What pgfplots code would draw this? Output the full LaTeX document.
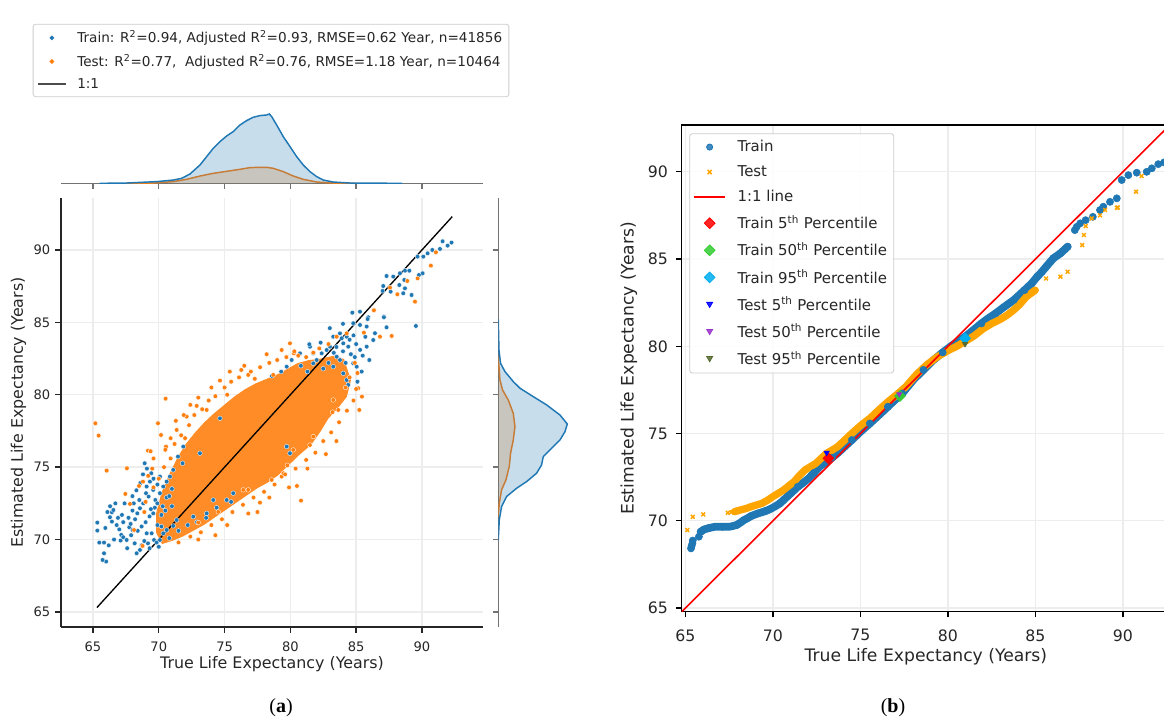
\documentclass[border=0pt]{standalone}
\usepackage{pgfplots}
\pgfplotsset{compat=1.18}
\usepackage{fontspec}
\setmainfont{DejaVu Sans}
\newfontfamily\capfont{Liberation Serif}
\definecolor{tabblue}{HTML}{1F77B4}
\definecolor{taborange}{HTML}{FF7F0E}
\definecolor{morange}{HTML}{FFA500}
\definecolor{lgreen}{HTML}{32CD32}
\definecolor{dorchid}{HTML}{9932CC}
\definecolor{dolive}{HTML}{556B2F}
\definecolor{gridc}{HTML}{EDEDED}
\definecolor{txt}{HTML}{262626}
\begin{document}
\begin{tikzpicture}
\useasboundingbox (0,0) rectangle (873pt,540pt);
\clip (0,0) rectangle (873pt,540pt);

% ---------------- top marginal (a)
\begin{axis}[at={(45.75pt,402.5pt)}, anchor=south west, scale only axis,
  width=316.5pt, height=55pt, xmin=62.57, xmax=94.64, ymin=0, ymax=73.3,
  axis x line*=bottom, hide y axis,
  xtick={65,70,...,90}, xticklabels={,,,,,},
  tick align=outside, major tick length=4pt,
  axis line style={black!55, line width=1.1pt}, tick style={black!55, line width=1pt}]
\addplot[fill=taborange, fill opacity=0.25, draw=none] coordinates {(67.5,0)(69.58,0.3)(71.10,1.7)(72.12,4)(73.13,7.3)(74.14,10)(75.16,12)(76.17,14)(76.93,15.7)(77.69,16)(78.20,16)(78.70,15)(79.46,11.7)(80.22,7.3)(80.98,4)(82.00,1.3)(83.26,0.3)(85,0)} -- cycle;
\addplot[taborange, line width=1.1pt] coordinates {(67.5,0)(69.58,0.3)(71.10,1.7)(72.12,4)(73.13,7.3)(74.14,10)(75.16,12)(76.17,14)(76.93,15.7)(77.69,16)(78.20,16)(78.70,15)(79.46,11.7)(80.22,7.3)(80.98,4)(82.00,1.3)(83.26,0.3)(85,0)};
\addplot[fill=tabblue, fill opacity=0.25, draw=none] coordinates {(65.5,0)(67.56,0.3)(69.84,1.7)(71.10,3.3)(71.74,5)(72.37,9.3)(73.13,18.3)(73.64,26.7)(74.14,35)(74.65,41.7)(75.16,47.3)(75.66,51.7)(76.17,58.3)(76.68,62.7)(77.18,66)(77.69,67.7)(78.20,68.3)(78.40,69.3)(78.58,66.7)(78.96,58.3)(79.46,46.7)(79.97,36.7)(80.48,26.7)(80.98,18.3)(81.49,11.7)(82.00,6.7)(82.50,3.3)(83.26,1.3)(84.53,0.3)(88.5,0)} -- cycle;
\addplot[tabblue, line width=1.1pt] coordinates {(65.5,0)(67.56,0.3)(69.84,1.7)(71.10,3.3)(71.74,5)(72.37,9.3)(73.13,18.3)(73.64,26.7)(74.14,35)(74.65,41.7)(75.16,47.3)(75.66,51.7)(76.17,58.3)(76.68,62.7)(77.18,66)(77.69,67.7)(78.20,68.3)(78.40,69.3)(78.58,66.7)(78.96,58.3)(79.46,46.7)(79.97,36.7)(80.48,26.7)(80.98,18.3)(81.49,11.7)(82.00,6.7)(82.50,3.3)(83.26,1.3)(84.53,0.3)(88.5,0)};
\end{axis}

% ---------------- right marginal (a)
\begin{axis}[at={(373.7pt,69.75pt)}, anchor=south west, scale only axis,
  width=55pt, height=321.75pt, xmin=0, xmax=73.3, ymin=63.96, ymax=93.59,
  axis y line*=left, hide x axis,
  ytick={65,70,...,90}, yticklabels={,,,,,},
  tick align=outside, major tick length=4pt,
  axis line style={black!55, line width=1.1pt}, tick style={black!55, line width=1pt}]
\addplot[fill=taborange, fill opacity=0.25, draw=none] coordinates {(0,82.63)(1.7,81.02)(4.3,80.33)(10,79.64)(15,78.72)(16.7,77.8)(15,76.88)(12.3,75.96)(11,75.04)(7.7,74.12)(3.3,73.43)(1,72.5)(0,71.58)} -- cycle;
\addplot[taborange, line width=1.1pt] coordinates {(0,82.63)(1.7,81.02)(4.3,80.33)(10,79.64)(15,78.72)(16.7,77.8)(15,76.88)(12.3,75.96)(11,75.04)(7.7,74.12)(3.3,73.43)(1,72.5)(0,71.58)};
\addplot[fill=tabblue, fill opacity=0.25, draw=none] coordinates {(0,85.2)(0.7,83.09)(2.3,82.17)(6.7,81.6)(15,80.91)(21.7,80.45)(35,79.87)(48.3,79.30)(61.7,78.6)(69,77.98)(66.7,77.45)(61.7,76.88)(51.7,76.19)(45,75.73)(43.3,75.15)(38.3,74.58)(28.3,74.0)(18.3,73.54)(8.3,72.97)(3.3,72.27)(1,71.35)(0,69.97)} -- cycle;
\addplot[tabblue, line width=1.1pt] coordinates {(0,85.2)(0.7,83.09)(2.3,82.17)(6.7,81.6)(15,80.91)(21.7,80.45)(35,79.87)(48.3,79.30)(61.7,78.6)(69,77.98)(66.7,77.45)(61.7,76.88)(51.7,76.19)(45,75.73)(43.3,75.15)(38.3,74.58)(28.3,74.0)(18.3,73.54)(8.3,72.97)(3.3,72.27)(1,71.35)(0,69.97)};
\end{axis}

% ---------------- main scatter (a)
\begin{axis}[at={(45.75pt,69.75pt)}, anchor=south west, scale only axis,
  width=316.5pt, height=321.75pt, xmin=62.57, xmax=94.64, ymin=63.96, ymax=93.59,
  axis lines*=left, axis line style={txt, line width=1pt},
  xtick={65,70,...,90}, ytick={65,70,...,90},
  tick align=outside, major tick length=4.5pt, tick style={txt, line width=1pt},
  grid=major, major grid style={gridc, line width=1pt},
  /pgf/number format/assume math mode=true,
  tick label style={font=\fontsize{9.8}{11}\selectfont, text=txt},
  xticklabel style={yshift=-3pt},
  label style={font=\fontsize{11.9}{13}\selectfont, text=txt},
  xlabel={True Life Expectancy (Years)}, ylabel={Estimated Life Expectancy (Years)},
  xlabel style={at={(axis description cs:0.5,-0.087)}, anchor=center},
  ylabel style={at={(axis description cs:-0.101,0.5)}, anchor=center},
  legend style={at={(axis description cs:-0.067,1.406)}, anchor=north west,
    draw=black!20, line width=0.6pt, rounded corners=2pt, fill=white,
    font=\fontsize{10.2}{12}\selectfont, text=txt, row sep=3.3pt, inner xsep=3pt, inner ysep=3pt,
    /tikz/every odd column/.append style={column sep=6pt}},
  legend cell align=left]
\addlegendimage{legend image code/.code={\fill[tabblue, sharp corners] (10.5pt,0pt) circle (1.4pt);}}
\addlegendentry{Train: R\textsuperscript{2}=0.94, Adjusted R\textsuperscript{2}=0.93, RMSE=0.62 Year, n=41856}
\addlegendimage{legend image code/.code={\fill[taborange, sharp corners] (10.5pt,0pt) circle (1.4pt);}}
\addlegendentry{Test: R\textsuperscript{2}=0.77,\ \ Adjusted R\textsuperscript{2}=0.76, RMSE=1.18 Year, n=10464}
\addlegendimage{legend image code/.code={\draw[black!70, line width=1.1pt, sharp corners] (0pt,0pt) -- (21pt,0pt);}}
\addlegendentry{1:1}
% train
\addplot[forget plot, only marks, mark=*, mark size=1.75pt, mark options={fill=tabblue, draw=white, line width=0.25pt}] coordinates {
(65.33,71.17)(65.33,70.62)(65.48,69.79)(65.84,69.79)(65.84,69.05)(66.00,68.48)(65.73,68.59)(65.94,70.80)(66.29,71.54)(66.44,71.88)(66.70,72.50)(66.55,72.04)(66.44,71.24)(67.10,69.93)(67.15,70.32)(67.30,70.16)(67.56,69.97)(67.76,70.85)(67.86,71.08)(68.01,70.66)(68.17,69.74)(68.32,69.05)(68.57,69.28)(68.37,71.81)(68.52,72.73)(68.57,72.16)(68.82,72.50)(69.03,73.20)(69.08,73.66)(69.23,72.97)(69.33,74.00)(69.43,74.58)(69.58,73.43)(69.74,72.73)(69.58,71.81)(69.89,72.50)(68.93,75.27)(69.08,70.43)(69.18,69.74)(69.46,70.43)(69.64,69.97)(69.84,69.79)(70.09,69.97)(70.34,70.43)(70.60,70.66)(71.10,70.94)(71.36,71.35)(70.09,73.20)(70.34,73.66)(70.60,74.00)(70.85,74.35)(71.10,74.81)(70.09,74.35)(71.46,75.73)(71.81,75.27)(68.0,72.0)(68.2,71.4)(68.7,70.9)(69.0,71.2)(69.3,71.6)(67.9,70.3)(68.9,69.9)(69.9,71.0)(70.2,70.9)(67.0,70.7)(66.9,71.5)(68.4,70.6)(69.7,72.2)(70.3,72.3)(70.6,72.9)(71.0,73.5)(70.8,73.0)
(66.1,71.9)(66.3,72.3)(66.8,71.0)(67.2,71.7)(67.4,72.5)(67.7,71.5)(68.0,73.0)(68.3,73.4)(68.6,73.9)(68.8,74.5)(69.1,74.9)(69.6,74.2)(69.9,73.8)(67.6,69.4)(68.7,69.6)(69.3,69.4)(70.0,69.5)(66.6,70.0)(66.2,69.6)(67.3,71.2)(68.1,72.5)(69.4,72.1)(70.2,71.7)(70.5,72.0)(71.0,72.3)(70.8,70.1)(71.5,70.6)(72.2,71.0)(72.9,71.2)(73.6,71.5)(74.4,72.2)(75.5,72.6)
(84.71,85.67)(85.29,85.74)(85.92,85.35)(84.78,84.94)(85.29,84.82)(85.80,84.71)(86.43,84.25)(87.31,84.66)(87.11,85.40)(89.54,84.75)(85.80,83.32)(86.30,83.78)(85.42,81.60)(85.04,81.94)(84.78,82.17)(84.40,80.68)(84.28,84.01)(83.77,84.24)(84.02,83.55)(84.40,83.32)(83.26,84.01)(83.01,83.32)(82.76,83.09)(82.38,82.86)(82.00,82.40)(81.74,82.17)(81.49,83.32)(81.74,82.86)(83.52,82.63)(83.77,82.40)(83.26,81.94)(84.02,81.48)(84.28,81.02)(79.72,81.94)(80.73,82.86)(91.57,90.60)(91.95,90.30)(92.25,90.51)(91.37,90.07)(90.79,90.00)(90.43,89.77)(90.10,89.54)(89.67,89.54)(90.05,88.39)(89.77,88.27)(87.31,88.20)(87.82,88.16)(88.33,88.39)(88.71,88.57)(89.04,88.57)(88.66,87.93)(88.28,87.58)(87.06,87.51)(87.01,87.17)(87.62,87.12)(88.71,87.35)(88.58,87.01)(89.21,86.89)(85.87,85.23)(87.11,85.35)(79.72,76.42)(79.97,75.96)(74.14,72.73)(75.16,72.73)(75.66,73.20)(73.64,71.81)(72.62,71.58)(74.65,78.37)(71.86,76.42)(73.13,75.96)(84.0,83.0)(84.5,83.8)(85.0,83.5)(84.6,82.8)(83.5,83.3)(84.9,82.6)(85.3,83.1)(84.2,82.2)(83.3,82.9)(84.8,84.1)(83.9,83.9)(85.5,82.7)(82.9,82.2)(82.5,81.8)(80.1,82.4)(80.8,82.0)(81.3,81.6)(79.3,81.6)(78.6,81.3)(81.44,83.49)(83.0,84.6)(84.0,84.9)(82.3,83.6)(85.7,84.0)(86.0,82.4)(85.1,80.9)};
% test: dense core
\addplot[forget plot, fill=taborange!90!white, draw=taborange!90!white, line width=2pt] coordinates {
(69.9,70.5)(69.9,71.8)(70.3,73.2)(70.9,74.5)(71.5,75.6)(72.1,76.5)(72.8,77.3)(73.5,78.0)(74.2,78.6)(75.0,79.2)(75.8,79.8)(76.6,80.3)(77.4,80.7)(78.2,81.0)(79.0,81.3)(79.8,81.7)(80.6,82.1)(81.4,82.3)(82.3,82.4)(83.3,82.6)(84.0,82.4)(84.5,81.0)(84.2,79.9)(83.6,79.2)(82.8,78.4)(82.2,77.5)(81.5,76.6)(80.6,75.9)(79.8,75.2)(79.0,74.5)(78.2,74.0)(77.4,73.6)(76.6,73.1)(75.8,72.6)(75.0,72.1)(74.2,71.6)(73.4,71.1)(72.6,70.7)(71.8,70.3)(71.0,70.0)(70.3,69.8)} -- cycle;
% test: scattered points
\addplot[forget plot, only marks, mark=*, mark size=1.75pt, mark options={fill=taborange, draw=white, line width=0.25pt}] coordinates {
(65.18,78.03)(65.43,77.18)(66.04,74.76)(67.58,74.92)(67.46,73.15)(67.81,72.46)(68.12,70.66)(68.77,69.56)(69.18,76.14)(69.38,76.10)(69.94,78.03)(70.52,79.73)(70.17,77.22)(70.55,76.42)(71.36,77.57)(72.12,78.49)(72.88,79.23)(73.64,78.95)(74.65,80.98)(76.27,81.71)(76.80,81.37)(78.70,81.37)(79.34,83.09)(79.97,83.55)(80.27,82.86)(81.74,82.91)(83.52,84.01)(84.28,84.24)(85.59,84.29)(86.35,85.86)(86.81,84.01)(87.70,84.06)(85.16,80.45)(85.44,79.87)(85.24,78.95)(83.64,78.95)(83.26,79.64)(81.74,77.11)(81.49,76.53)(80.22,76.19)(79.34,74.35)(79.47,74.58)(78.58,74.12)(77.69,72.55)(76.80,73.43)(76.42,73.43)(74.52,71.91)(73.00,71.17)(80.81,72.69)(79.77,75.13)(91.06,89.84)(90.68,88.92)(89.67,88.04)(88.89,87.86)(88.13,86.94)(87.57,87.40)(89.47,86.43)(86.35,85.83)
(70.0,74.2)(70.4,75.0)(70.9,75.6)(71.2,76.6)(71.7,77.2)(72.3,77.9)(72.7,78.6)(73.3,79.0)(73.8,79.6)(74.3,79.9)(75.0,80.5)(75.5,80.9)(76.1,81.2)(77.0,81.6)(77.7,81.9)(78.4,82.2)(79.0,82.4)(79.7,82.6)(80.3,83.0)(69.5,74.9)(69.6,75.6)(70.9,77.0)(71.9,78.6)(72.4,79.3)(73.0,79.8)(74.0,80.5)(75.4,81.6)(76.5,82.0)(78.2,82.8)(71.3,78.2)(70.5,76.2)(69.6,73.6)(69.2,74.4)(68.8,74.0)(68.5,73.7)(69.0,72.6)(68.9,71.9)
(71.5,69.8)(72.4,70.2)(73.2,70.5)(74.0,71.0)(74.8,71.4)(75.6,71.9)(76.4,72.4)(77.2,72.9)(78.0,73.3)(78.8,73.8)(79.6,74.5)(80.4,74.9)(81.2,75.5)(81.9,76.0)(82.5,76.8)(83.1,77.4)(83.7,78.1)(84.3,78.9)(84.8,79.6)(85.0,80.4)(85.1,81.5)(84.9,82.2)(73.0,70.0)(75.2,71.0)(76.8,71.8)(78.4,72.9)(79.9,73.6)(81.3,74.9)(82.7,75.9)(83.5,76.8)(80.5,73.7)(77.5,71.9)(74.3,70.3)
(72.0,77.0)(75.2,80.0)(77.3,81.1)(80.6,82.7)(81.2,82.6)(82.2,83.2)(82.9,83.5)(84.2,80.5)(84.5,81.2)(83.2,78.8)};
% 1:1
\addplot[forget plot, black, line width=1pt] coordinates {(65.3,65.3)(92.3,92.3)};
\end{axis}

% ---------------- panel (b)
\begin{axis}[at={(511.3pt,81.2pt)}, anchor=south west, scale only axis,
  width=366.2pt, height=365pt, xmin=64.79, xmax=92.69, ymin=64.79, ymax=92.68,
  axis line style={black, line width=1.1pt},
  xtick={65,70,...,90}, ytick={65,70,...,90}, xtick pos=left, ytick pos=left,
  tick align=outside, major tick length=4.3pt, tick style={black, line width=1pt},
  grid=major, major grid style={gridc, line width=1pt},
  /pgf/number format/assume math mode=true,
  tick label style={font=\fontsize{11.8}{13}\selectfont, text=txt},
  xticklabel style={yshift=-5.5pt}, yticklabel style={xshift=-2.6pt},
  label style={font=\fontsize{12.9}{14}\selectfont, text=txt},
  xlabel={True Life Expectancy (Years)}, ylabel={Estimated Life Expectancy (Years)},
  xlabel style={at={(axis description cs:0.5,-0.0925)}, anchor=center},
  ylabel style={at={(axis description cs:-0.1083,0.5)}, anchor=center},
  legend style={at={(axis description cs:0.0154,0.983)}, anchor=north west,
    draw=black!20, line width=0.6pt, rounded corners=2pt, fill=white, fill opacity=0.85, text opacity=1,
    font=\fontsize{11.2}{13}\selectfont, text=txt, row sep=4.9pt, inner xsep=3pt, inner ysep=3pt,
    /tikz/every odd column/.append style={column sep=7pt}},
  legend cell align=left]
\addlegendimage{legend image code/.code={\fill[tabblue, sharp corners] (11.5pt,0pt) circle (2.3pt);}}
\addlegendentry{Train}
\addlegendimage{legend image code/.code={\draw[morange, line width=1.1pt, sharp corners] (10pt,-1.6pt) -- (13pt,1.6pt) (10pt,1.6pt) -- (13pt,-1.6pt);}}
\addlegendentry{Test}
\addlegendimage{legend image code/.code={\draw[red, line width=1pt, sharp corners] (0pt,0pt) -- (23pt,0pt);}}
\addlegendentry{1:1 line}
\addlegendimage{legend image code/.code={\fill[red, sharp corners] (11.5pt,-4pt) -- (15.5pt,0pt) -- (11.5pt,4pt) -- (7.5pt,0pt) -- cycle;}}
\addlegendentry{Train 5\textsuperscript{th} Percentile}
\addlegendimage{legend image code/.code={\fill[lgreen, sharp corners] (11.5pt,-4pt) -- (15.5pt,0pt) -- (11.5pt,4pt) -- (7.5pt,0pt) -- cycle;}}
\addlegendentry{Train 50\textsuperscript{th} Percentile}
\addlegendimage{legend image code/.code={\fill[cyan, sharp corners] (11.5pt,-4pt) -- (15.5pt,0pt) -- (11.5pt,4pt) -- (7.5pt,0pt) -- cycle;}}
\addlegendentry{Train 95\textsuperscript{th} Percentile}
\addlegendimage{legend image code/.code={\fill[blue, sharp corners] (9.3pt,1.6pt) -- (13.7pt,1.6pt) -- (11.5pt,-2.2pt) -- cycle;}}
\addlegendentry{Test 5\textsuperscript{th} Percentile}
\addlegendimage{legend image code/.code={\fill[dorchid, sharp corners] (9.3pt,1.6pt) -- (13.7pt,1.6pt) -- (11.5pt,-2.2pt) -- cycle;}}
\addlegendentry{Test 50\textsuperscript{th} Percentile}
\addlegendimage{legend image code/.code={\fill[dolive, sharp corners] (9.3pt,1.6pt) -- (13.7pt,1.6pt) -- (11.5pt,-2.2pt) -- cycle;}}
\addlegendentry{Test 95\textsuperscript{th} Percentile}
% train band + points
\addplot[forget plot, tabblue, line width=5.8pt, line cap=round, line join=round] coordinates {
(65.87,69.37)(66.05,69.50)(66.29,69.57)(66.50,69.62)(66.70,69.66)(66.90,69.66)(67.11,69.66)(67.30,69.66)(67.52,69.66)(67.70,69.70)(67.93,69.76)(68.15,69.90)(68.34,70.04)(68.55,70.15)(68.75,70.27)(68.95,70.35)(69.17,70.43)(69.40,70.50)(69.58,70.56)(69.80,70.65)(69.99,70.75)(70.20,70.87)(70.40,71.00)(70.60,71.18)(70.81,71.38)(71.10,71.65)(71.42,71.95)(71.73,72.18)(72.04,72.43)(72.35,72.75)(72.66,73.10)(73.07,73.38)(73.38,73.62)(73.69,73.87)(74.10,74.25)(74.51,74.63)(75.00,75.10)(75.54,75.58)(76.05,76.05)(76.57,76.54)(77.00,76.95)(77.39,77.30)(78.02,78.07)(78.60,78.65)(79.17,79.21)(79.70,79.65)(80.30,80.10)(80.98,80.55)(81.45,80.93)(81.91,81.31)(82.30,81.60)(82.73,81.89)(83.20,82.25)(83.76,82.65)(84.38,83.22)(84.79,83.61)(85.10,83.99)(85.35,84.25)(85.61,84.56)(86.02,85.04)(86.43,85.33)(86.84,85.71)};
\addplot[forget plot, only marks, mark=*, mark size=2.7pt, tabblue] coordinates {
(65.32,68.42)(65.35,68.55)(65.40,68.70)(65.42,68.87)(65.77,69.09)(65.87,69.37)(66.29,69.57)(67.11,69.66)(67.93,69.76)(68.75,70.27)(69.58,70.56)(70.40,71.00)(71.42,71.95)(72.35,72.75)(73.38,73.62)(74.51,74.63)(75.54,75.58)(76.57,76.54)(77.39,77.30)(78.60,78.65)(79.70,79.65)(80.98,80.55)(81.91,81.31)(82.73,81.89)(83.76,82.65)(84.38,83.22)(84.79,83.61)(85.10,83.99)(85.35,84.25)(85.61,84.56)(86.02,85.04)(86.43,85.33)(86.84,85.71)(87.25,86.66)(87.36,86.85)(87.56,87.05)(87.87,87.23)(88.28,87.42)(88.69,87.81)(88.88,88.00)(89.26,88.28)(89.65,88.48)(89.93,89.53)(90.31,89.81)(90.79,89.95)(91.36,90.00)(91.65,90.20)(92.02,90.44)(92.35,90.54)};
% test band + points
\addplot[forget plot, morange, line width=5.5pt, line cap=round, line join=round] coordinates {
(67.80,70.52)(68.14,70.62)(68.45,70.70)(68.75,70.81)(69.05,70.90)(69.37,71.00)(69.70,71.18)(69.99,71.38)(70.30,71.57)(70.60,71.76)(70.90,72.00)(71.21,72.24)(71.52,72.60)(71.83,72.91)(72.14,73.10)(72.45,73.29)(72.76,73.58)(73.07,73.87)(73.38,74.05)(73.69,74.24)(74.10,74.62)(74.51,75.01)(75.00,75.45)(75.54,75.87)(76.05,76.35)(76.57,76.82)(77.10,77.25)(77.59,77.68)(78.22,78.40)(78.80,78.95)(79.40,79.40)(80.00,79.75)(80.50,80.00)(81.00,80.30)(81.50,80.60)(82.00,81.00)(82.50,81.30)(83.00,81.55)(83.40,81.80)(83.76,82.08)(84.10,82.40)(84.48,82.84)(84.99,83.22)};
\addplot[forget plot, only marks, mark=x, mark size=2pt, mark options={line width=1.1pt}, morange] coordinates {
(65.11,69.47)(65.42,70.23)(66.02,70.37)(67.42,70.46)(67.63,70.50)(67.80,70.52)(68.14,70.62)(84.48,82.84)(84.99,83.22)(85.61,83.89)(86.43,83.99)(86.84,84.27)(87.67,85.80)(87.77,86.38)(87.87,86.89)(88.22,87.33)(88.69,87.50)(88.98,87.81)(89.65,87.94)(89.71,87.96)(90.75,88.86)(91.07,89.76)};
% 1:1 line
\addplot[forget plot, red, line width=1.2pt] coordinates {(64.79,64.79)(92.68,92.68)};
% percentiles
\addplot[forget plot, only marks, mark=square*, mark size=2.9pt, mark options={rotate=45}, red] coordinates {(73.17,73.58)};
\addplot[forget plot, only marks, mark=square*, mark size=2.9pt, mark options={rotate=45}, lgreen] coordinates {(77.26,77.15)};
\addplot[forget plot, only marks, mark=square*, mark size=2.9pt, mark options={rotate=45}, cyan] coordinates {(80.98,80.46)};
\addplot[forget plot, only marks, mark=triangle*, mark size=2.3pt, mark options={rotate=180}, blue] coordinates {(73.07,73.90)};
\addplot[forget plot, only marks, mark=triangle*, mark size=2.3pt, mark options={rotate=180}, dorchid] coordinates {(77.22,77.26)};
\addplot[forget plot, only marks, mark=triangle*, mark size=2.3pt, mark options={rotate=180}, dolive] coordinates {(80.98,80.13)};
\end{axis}

\node[font=\capfont\fontsize{15}{17}\selectfont] at (210.75pt,9pt) {(\textbf{a})};
\node[font=\capfont\fontsize{15}{17}\selectfont] at (669.75pt,9pt) {(\textbf{b})};
\end{tikzpicture}
\end{document}
